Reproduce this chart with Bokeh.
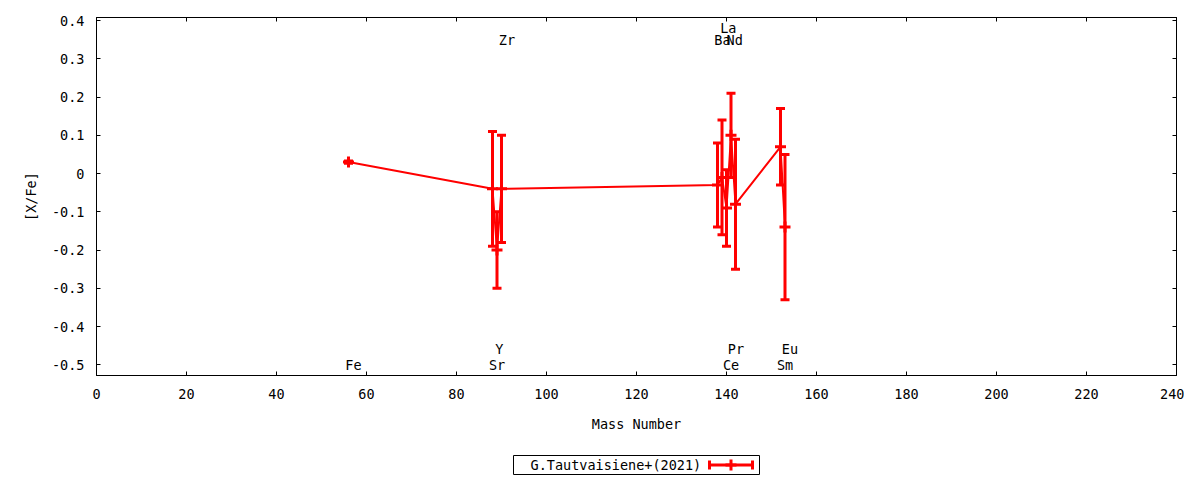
from bokeh.plotting import figure
from bokeh.models import (Range1d, FixedTicker, LinearAxis, Whisker, TeeHead,
                          ColumnDataSource)
from bokeh.core.properties import value
from bokeh.embed import file_html
from bokeh.resources import INLINE

# ---------------- data ----------------
elements = ["Fe", "Sr", "Y", "Zr", "Ba", "La", "Ce", "Pr", "Nd", "Sm", "Eu"]
mass = [56, 88, 89, 90, 138, 139, 140, 141, 142, 152, 153]
xfe = [0.03, -0.04, -0.20, -0.04, -0.03, -0.01, -0.09, 0.10, -0.08, 0.07, -0.14]
err = [0.003, 0.15, 0.10, 0.14, 0.11, 0.15, 0.10, 0.11, 0.17, 0.10, 0.19]

# element label positions (as placed in the original chart)
label_x = [55.3, 87.2, 88.6, 89.4, 137.3, 138.6, 139.2, 140.3, 140.0, 151.2, 152.3]
label_y = [-0.50, -0.50, -0.46, 0.35, 0.35, 0.38, -0.50, -0.46, 0.35, -0.50, -0.46]

x_ticks = [0, 20, 40, 60, 80, 100, 120, 140, 160, 180, 200, 220, 240]
x_tick_labels = ["0", "20", "40", "60", "80", "100", "120", "140", "160",
                 "180", "200", "220", "240"]
y_ticks = [-0.5, -0.4, -0.3, -0.2, -0.1, 0.0, 0.1, 0.2, 0.3, 0.4]
y_tick_labels = ["-0.5", "-0.4", "-0.3", "-0.2", "-0.1", "0", "0.1", "0.2", "0.3", "0.4"]

series_name = "G.Tautvaisiene+(2021)"
x_title = "Mass Number"
y_title = "[X/Fe]"

RED = "#ff0000"
FONT = "DejaVu Sans Mono"
FS = "13.5px"
W = 1184

src = ColumnDataSource(dict(
    x=mass, y=xfe,
    lower=[v - e for v, e in zip(xfe, err)],
    upper=[v + e for v, e in zip(xfe, err)],
))
lab_src = ColumnDataSource(dict(x=label_x, y=label_y, t=elements))

p = figure(width=W, height=440,
           x_range=Range1d(0, 240), y_range=Range1d(-0.528, 0.408),
           output_backend="svg", toolbar_location=None,
           min_border_left=96, min_border_right=8,
           min_border_top=17, min_border_bottom=65,
           background_fill_color="white", border_fill_color="white")

p.xgrid.visible = False
p.ygrid.visible = False
p.outline_line_color = "black"
p.outline_line_width = 1


def style_axis(ax, ticks, labels, show_labels=True):
    ax.ticker = FixedTicker(ticks=ticks)
    ax.minor_tick_line_color = None
    ax.major_tick_in = 4
    ax.major_tick_out = 0
    ax.major_tick_line_color = "black"
    ax.axis_line_color = "black"
    ax.major_label_text_font = FONT
    ax.major_label_text_color = "black"
    if show_labels:
        ax.major_label_overrides = {t: l for t, l in zip(ticks, labels)}
        ax.major_label_text_font_size = FS
    else:
        ax.major_label_overrides = {t: "" for t in ticks}
        ax.major_label_text_font_size = "0px"
        ax.major_label_standoff = 0


style_axis(p.xaxis[0], x_ticks, x_tick_labels)
style_axis(p.yaxis[0], y_ticks, y_tick_labels)
p.xaxis[0].major_label_standoff = 13
p.yaxis[0].major_label_standoff = 12

p.xaxis[0].axis_label = x_title
p.yaxis[0].axis_label = y_title
for ax in (p.xaxis[0], p.yaxis[0]):
    ax.axis_label_text_font = FONT
    ax.axis_label_text_font_size = FS
    ax.axis_label_text_font_style = "normal"
    ax.axis_label_text_color = "black"
p.xaxis[0].axis_label_standoff = 14
p.yaxis[0].axis_label_standoff = 10

top_ax = LinearAxis()
right_ax = LinearAxis()
style_axis(top_ax, x_ticks, x_tick_labels, show_labels=False)
style_axis(right_ax, y_ticks, y_tick_labels, show_labels=False)
p.add_layout(top_ax, "above")
p.add_layout(right_ax, "right")

# connecting line
p.line("x", "y", source=src, line_color=RED, line_width=2)

# error bars
wh = Whisker(source=src, base="x", upper="upper", lower="lower",
             dimension="height", line_color=RED, line_width=3,
             upper_head=TeeHead(size=9, line_color=RED, line_width=3),
             lower_head=TeeHead(size=9, line_color=RED, line_width=3))
p.add_layout(wh)

# point markers
p.scatter("x", "y", source=src, marker="cross", size=11,
          line_color=RED, line_width=3)

# element labels
p.text("x", "y", text="t", source=lab_src, text_font=value(FONT),
       text_font_size=FS, text_align="left", text_baseline="middle",
       text_color="black")

# ---------------- legend (gnuplot style: text first, sample at right) ----------------
# a small separate panel whose frame is the legend box; its ranges are in pixels
BOX_W, BOX_H = 246, 19
leg = figure(width=W, height=40,
             x_range=Range1d(0, BOX_W), y_range=Range1d(0, BOX_H),
             output_backend="svg", toolbar_location=None,
             min_border_left=513, min_border_right=W - 513 - BOX_W,
             min_border_top=15, min_border_bottom=40 - 15 - BOX_H,
             background_fill_color="white", border_fill_color="white")
leg.axis.visible = False
leg.xgrid.visible = False
leg.ygrid.visible = False
leg.outline_line_color = "black"
leg.outline_line_width = 1

leg.text(x=[17], y=[BOX_H / 2], text=[series_name], text_font=value(FONT),
         text_font_size=FS, text_align="left", text_baseline="middle",
         text_color="black")
leg_src = ColumnDataSource(dict(base=[BOX_H / 2], lo=[196], hi=[239], mid=[217.5]))
leg.add_layout(Whisker(source=leg_src, base="base", lower="lo", upper="hi",
                       dimension="width", line_color=RED, line_width=3,
                       upper_head=TeeHead(size=9, line_color=RED, line_width=3),
                       lower_head=TeeHead(size=9, line_color=RED, line_width=3)))
leg.scatter(x="mid", y="base", source=leg_src, marker="cross", size=11,
            line_color=RED, line_width=3)

open("out.html", "w").write(file_html([p, leg], INLINE))
